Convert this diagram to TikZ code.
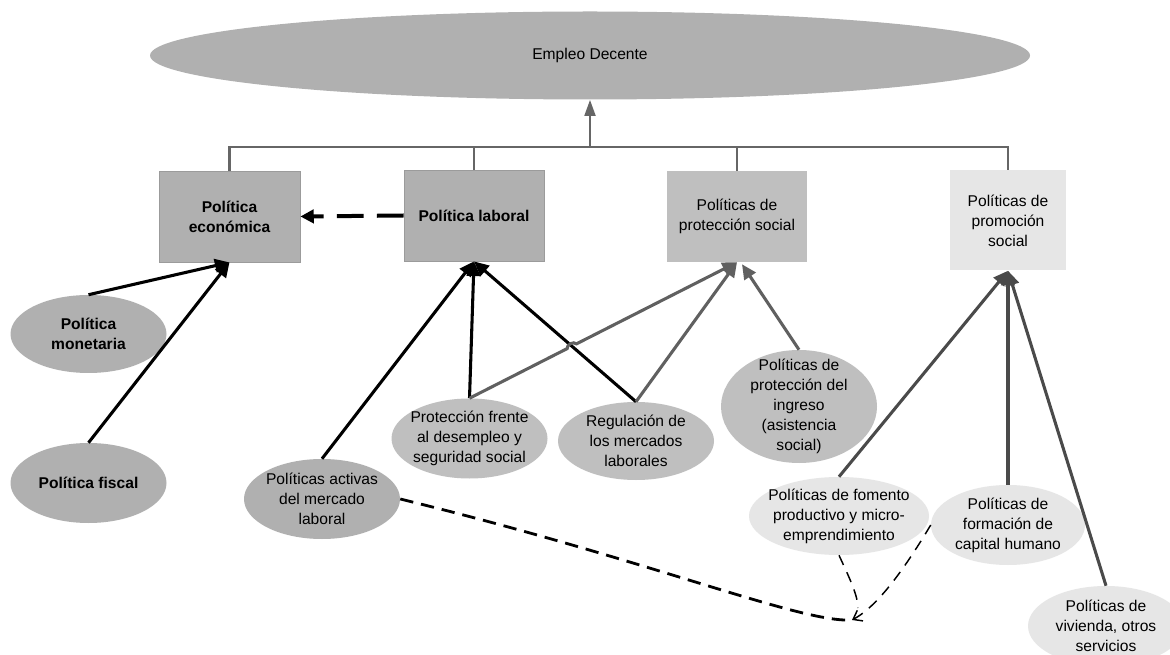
\documentclass[tikz,border=0pt]{standalone}
\usepackage{fontspec}
\setmainfont{Liberation Sans}
\usetikzlibrary{arrows.meta,shapes.geometric,calc}
\definecolor{gA}{HTML}{B0B0B0}
\definecolor{gB}{HTML}{BFBFBF}
\definecolor{gC}{HTML}{E6E6E6}
\definecolor{lnA}{HTML}{606060}
\definecolor{lnB}{HTML}{4A4A4A}
\definecolor{lnT}{HTML}{666666}
\tikzset{
  txt/.style={align=center, font=\fontsize{11.7}{15}\selectfont, inner sep=0pt},
  btxt/.style={align=center, font=\fontsize{11.7}{15}\selectfont\bfseries, inner sep=0pt},
  bx/.style={rectangle, inner sep=0pt, align=center},
  el/.style={ellipse, inner sep=0pt, draw=none},
  tipA/.style={-{Triangle[length=11pt,width=10pt]}},
  blk/.style={draw=black, line width=2.3pt, tipA},
  gry/.style={draw=lnA, line width=2.3pt, tipA},
  gryd/.style={draw=lnB, line width=2.3pt, tipA},
  conn/.style={draw=lnT, line width=2pt},
  connarrow/.style={draw=lnT, line width=2pt, -{Triangle[length=12pt,width=8pt]}},
  dsh/.style={draw=black, line width=3pt, dash pattern=on 20pt off 10pt, -{Triangle[length=10pt,width=10pt]}},
  dshcurve/.style={draw=black, line width=2.1pt, dash pattern=on 10pt off 6pt},
  dshthin/.style={draw=black, line width=1.1pt, dash pattern=on 8pt off 6pt},
}
\begin{document}
\begin{tikzpicture}[x=0.75pt,y=-0.75pt]
\useasboundingbox (0,0) rectangle (1170,655);
\clip (0,0) rectangle (1170,655);
\fill[white] (0,0) rectangle (1170,655);

% top ellipse
\node[el, fill=gA, minimum width={880*0.75pt}, minimum height={88*0.75pt},
      label={[txt]center:Empleo Decente}] (emp) at (590,55.5) {};

% boxes
\node[bx, fill=gA, draw=gA!88!black, line width=0.6pt, minimum width={141*0.75pt}, minimum height={91*0.75pt}, btxt] (econ) at (229.5,216.5) {Política\\económica};
\node[bx, fill=gA, draw=gA!88!black, line width=0.6pt, minimum width={140*0.75pt}, minimum height={91*0.75pt}, btxt] (lab) at (474,215.5) {Política laboral};
\node[bx, fill=gB, minimum width={140*0.75pt}, minimum height={91*0.75pt}, txt] (prot) at (737,216.5) {Políticas de\\protección social};
\node[bx, fill=gC, minimum width={116*0.75pt}, minimum height={100*0.75pt}, txt] (prom) at (1008,220.5) {Políticas de\\promoción\\social};

% ellipses
\node[el, fill=gA, minimum width={156*0.75pt}, minimum height={78*0.75pt},
      label={[btxt]center:Política\\monetaria}] (mon) at (88.5,334) {};
\node[el, fill=gA, minimum width={156*0.75pt}, minimum height={80*0.75pt},
      label={[btxt]center:Política fiscal}] (fis) at (88.5,483) {};
\node[el, fill=gA, minimum width={156*0.75pt}, minimum height={80*0.75pt},
      label={[txt]center:Políticas activas\\del mercado\\laboral}] (act) at (322,499) {};
\node[el, fill=gB, minimum width={156*0.75pt}, minimum height={80*0.75pt},
      label={[txt]center:Protección frente\\al desempleo y\\seguridad social}] (pf) at (469.5,438.5) {};
\node[el, fill=gB, minimum width={156*0.75pt}, minimum height={78*0.75pt},
      label={[txt]center:Regulación de\\los mercados\\laborales}] (reg) at (636,441) {};
\node[el, fill=gB, minimum width={156*0.75pt}, minimum height={113*0.75pt},
      label={[txt]center:Políticas de\\protección del\\ingreso\\(asistencia\\social)}] (ing) at (799,406.5) {};
\node[el, fill=gC, minimum width={180*0.75pt}, minimum height={78*0.75pt},
      label={[txt]center:Políticas de fomento\\productivo y micro-\\emprendimiento}] (fom) at (839,516) {};
\node[el, fill=gC, minimum width={154*0.75pt}, minimum height={80*0.75pt},
      label={[txt]center:Políticas de\\formación de\\capital humano}] (for) at (1008,525) {};
\node[el, fill=gC, minimum width={156*0.75pt}, minimum height={80*0.75pt},
      label={[txt]center:Políticas de\\vivienda, otros\\servicios}] (viv) at (1106,626) {};

% top connectors
\coordinate (hl) at (0,147);
\draw[conn] (econ.north) -- (econ.north |- hl) -- (prom.north |- hl) -- (prom.north);
\draw[conn] (lab.north) -- (lab.north |- hl);
\draw[conn] (prot.north) -- (prot.north |- hl);
\draw[connarrow] (emp.south |- hl) -- (emp.south);

% dashed arrow laboral -> economica
\draw[dsh] (lab.west) -- (econ.east);

% black arrows
\draw[blk] (mon.north) -- (econ.south);
\draw[blk] (fis.north) -- (econ.south);
\draw[blk] (act.north) -- (lab.south);
\draw[blk] (pf.north) -- (lab.south);
\draw[blk] (reg.north) -- (lab.south);

% gray arrows to proteccion social
\draw[gry] (pf.north) -- ($(pf.north)!0.365!(prot.south)$)
   to[bend left=70] ($(pf.north)!0.40!(prot.south)$) -- (prot.south);
\draw[gry] (reg.north) -- (prot.south);
\draw[gry] (ing.north) -- ($(prot.south)+(5,2)$);

% dark gray arrows to promocion social
\draw[gryd] (fom.north) -- (prom.south);
\draw[gryd] (for.north) -- (prom.south);
\draw[gryd] (viv.north) -- (prom.south);

% dashed curves
\coordinate (J) at (852,620);
\draw[dshcurve] (act.east) .. controls (650,560) and (800,623) .. (J);
\draw[dshthin, -{Straight Barb[length=6pt,width=9pt]}] (for.west) .. controls (905,568) and (878,606) .. (J);
\draw[dshthin] (fom.south) .. controls (848,575) and (858,595) .. ($(J)+(6,-12)$);
\end{tikzpicture}
\end{document}
